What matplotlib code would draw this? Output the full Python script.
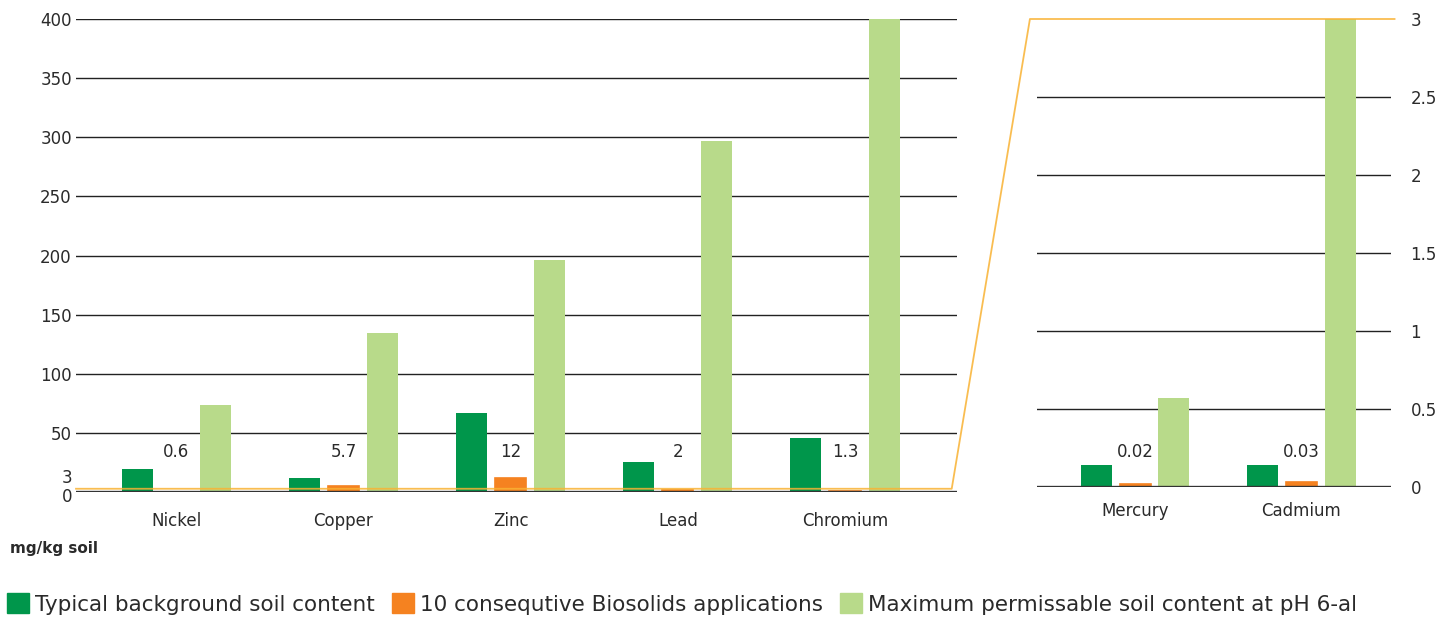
import numpy as np
import matplotlib
matplotlib.use("Agg")
import matplotlib.pyplot as plt
from matplotlib import transforms
from matplotlib.lines import Line2D
from matplotlib.patches import Patch

# values (mg/kg soil)
METALS_MAIN = ["Nickel", "Copper", "Zinc", "Lead", "Chromium"]
BACKGROUND_MAIN = [20, 12, 67, 26, 46]
BIOSOLIDS_MAIN = [0.6, 5.7, 12, 2, 1.3]
MAX_PERMISSIBLE_MAIN = [74, 135, 196, 297, 400]

METALS_TRACE = ["Mercury", "Cadmium"]
BACKGROUND_TRACE = [0.14, 0.14]
BIOSOLIDS_TRACE = [0.02, 0.03]
MAX_PERMISSIBLE_TRACE = [0.57, 3]

LEGEND_LABELS = ["Typical background soil content",
                 "10 consequtive Biosolids applications",
                 "Maximum permissable soil content at pH 6-al"]

GREEN, ORANGE, LIGHT = "#00964b", "#f58220", "#b8da8a"
LINK = "#f9b233"
INK = "#2a2a2a"

plt.rcParams["font.family"] = ["DejaVu Sans"]
W, H = 1451, 623
fig = plt.figure(figsize=(W / 100, H / 100), dpi=100)

ax1 = fig.add_axes([76 / W, 130.7 / H, 881 / W, 473.3 / H])
ax2 = fig.add_axes([1037 / W, 136 / H, 354 / W, 468 / H])

bw, step = 0.186, 0.234


def draw_group(ax, names, bg, bio, mx, label_y, xpad):
    x = np.arange(len(names))
    ax.bar(x - step, bg, bw, color=GREEN, zorder=2)
    ax.bar(x, bio, bw, color=ORANGE, edgecolor=ORANGE, lw=1.2, zorder=2)
    ax.bar(x + step, mx, bw, color=LIGHT, zorder=2)
    for xi, v in zip(x, bio):
        ax.text(xi, label_y, f"{v:g}", ha="center", va="center", fontsize=12, color=INK)
    ax.set_xticks(x, names)
    ax.tick_params(axis="x", length=0, pad=xpad, labelsize=12, labelcolor=INK)
    ax.tick_params(axis="y", length=0, labelsize=12, labelcolor=INK)
    ax.grid(axis="y", color="#222222", lw=1, zorder=1)
    ax.axhline(0, color="#333333", lw=2.4, zorder=4)
    for s in ax.spines.values():
        s.set_visible(False)


draw_group(ax1, METALS_MAIN, BACKGROUND_MAIN, BIOSOLIDS_MAIN, MAX_PERMISSIBLE_MAIN, 34, 14)
ax1.set_xlim(-0.60, 4.67)
ax1.set_ylim(0, 400)
ticks = list(range(0, 401, 50))
ax1.set_yticks(ticks, [""] + [str(t) for t in ticks[1:]])
ax1.tick_params(axis="y", pad=3)
yl = transforms.blended_transform_factory(ax1.transAxes, ax1.transData)
ax1.text(-0.004, 12, "3", transform=yl, ha="right", va="center", fontsize=12, color=INK)
ax1.text(-0.004, -4, "0", transform=yl, ha="right", va="center", fontsize=12, color=INK)

draw_group(ax2, METALS_TRACE, BACKGROUND_TRACE, BIOSOLIDS_TRACE, MAX_PERMISSIBLE_TRACE, 0.224, 11)
ax2.set_xlim(-0.59, 1.54)
ax2.set_ylim(0, 3)
ax2.set_yticks([0, 0.5, 1, 1.5, 2, 2.5, 3], ["0", "0.5", "1", "1.5", "2", "2.5", "3"])
ax2.yaxis.tick_right()
ax2.tick_params(axis="y", pad=14)
ax2.yaxis.get_gridlines()[-1].set_visible(False)

# zoom connector: 3 mg/kg on the main axis -> top of the trace axis
t1 = transforms.blended_transform_factory(ax1.transAxes, ax1.transData)
t2 = transforms.blended_transform_factory(ax2.transAxes, ax2.transData)
pts = np.vstack([t1.transform([(0, 3), (0.994, 3)]),
                 t2.transform([(-0.02, 3), (1.01, 3)])])
pts = fig.transFigure.inverted().transform(pts)
fig.add_artist(Line2D(pts[:, 0], pts[:, 1], transform=fig.transFigure,
                      color=LINK, lw=1.3, alpha=0.85, zorder=5))

fig.text(10 / W, 1 - 548 / H, "mg/kg soil", fontsize=11, fontweight="bold",
         color=INK, ha="left", va="center")

handles = [Patch(color=c) for c in (GREEN, ORANGE, LIGHT)]
fig.legend(handles, LEGEND_LABELS, loc="center left", bbox_to_anchor=(7 / W, 1 - 604 / H),
           ncol=3, frameon=False, fontsize=15.5, handlelength=1.02, handleheight=1.02,
           handletextpad=0.28, columnspacing=0.8, borderpad=0, borderaxespad=0,
           labelcolor=INK)

fig.savefig("out.png", dpi=100)
